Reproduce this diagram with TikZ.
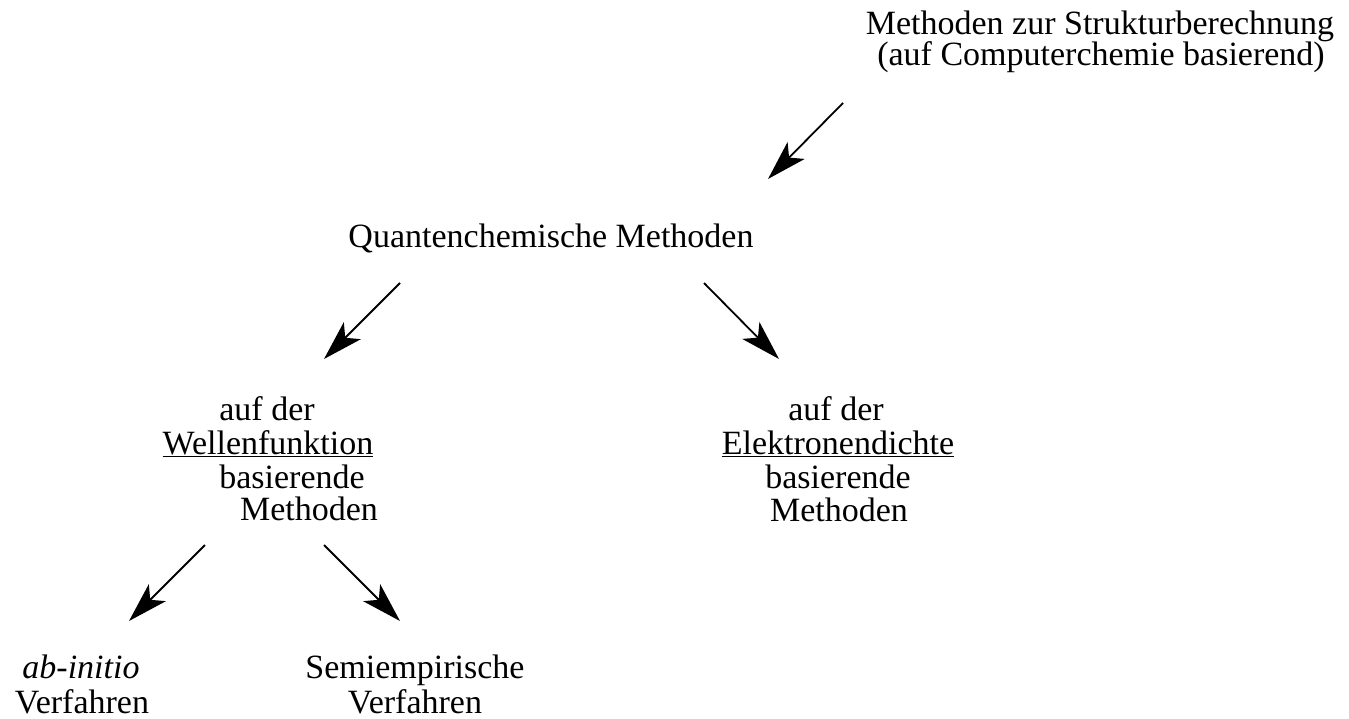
\documentclass[tikz,border=0pt]{standalone}
\usepackage{fontspec}
\setmainfont{Liberation Serif}
\usetikzlibrary{arrows.meta}
\tikzset{
  lbl/.style={anchor=base, inner sep=0pt, font=\fontsize{34}{34}\selectfont},
  conn/.style={line width=1.8pt, -{Stealth[length=40pt,width=24pt,inset=10pt]}}
}
\begin{document}
\begin{tikzpicture}[x=1pt,y=-1pt]
\useasboundingbox (0,0) rectangle (1349,719);
% title
\node[lbl] (top1) at (1100,35) {Methoden zur Strukturberechnung};
\node[lbl] (top2) at (1101,66) {(auf Computerchemie basierend)};
% level 1
\node[lbl] (qc) at (551,248) {Quantenchemische Methoden};
% level 2 left
\node[lbl] (wf1) at (267,420) {auf der};
\node[lbl] (wf2) at (268,454) {\underline{Wellenfunktion}};
\node[lbl] (wf3) at (292,488) {basierende};
\node[lbl] (wf4) at (309,520) {Methoden};
% level 2 right
\node[lbl] (ed1) at (836,420) {auf der};
\node[lbl] (ed2) at (838,454) {\underline{Elektronendichte}};
\node[lbl] (ed3) at (838,488) {basierende};
\node[lbl] (ed4) at (839,521) {Methoden};
% level 3
\node[lbl] (ai1) at (81,678) {\textit{ab-initio}};
\node[lbl] (ai2) at (82,713) {Verfahren};
\node[lbl] (se1) at (415,678) {Semiempirische};
\node[lbl] (se2) at (415,713) {Verfahren};
% connectors
\coordinate (a1s) at (843,103); \coordinate (a1e) at (768,179);
\coordinate (a2s) at (400,283); \coordinate (a2e) at (324,359);
\coordinate (a3s) at (704,283); \coordinate (a3e) at (779,359);
\coordinate (a4s) at (205,545); \coordinate (a4e) at (129,621);
\coordinate (a5s) at (324,545); \coordinate (a5e) at (400,621);
\draw[conn] (a1s) -- (a1e);
\draw[conn] (a2s) -- (a2e);
\draw[conn] (a3s) -- (a3e);
\draw[conn] (a4s) -- (a4e);
\draw[conn] (a5s) -- (a5e);
\end{tikzpicture}
\end{document}
